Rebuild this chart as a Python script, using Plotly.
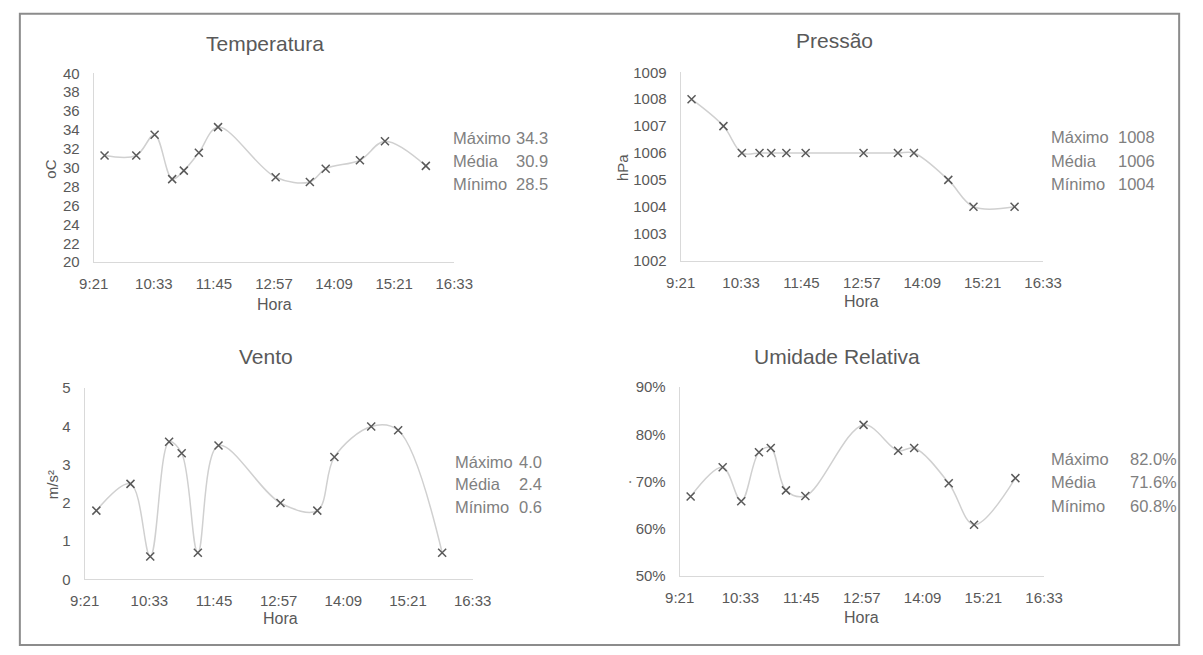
import plotly.graph_objects as go

# Observation times (HH:MM)
horas = ["9:34", "10:12", "10:34", "10:55", "11:09", "11:27", "11:50",
         "12:59", "13:40", "13:59", "14:40", "15:10", "15:59"]

temperatura = [31.3, 31.3, 33.5, 28.8, 29.7, 31.6, 34.3, 29.0, 28.5, 29.9, 30.8, 32.8, 30.2]
pressao = [1008, 1007, 1006, 1006, 1006, 1006, 1006, 1006, 1006, 1006, 1005, 1004, 1004]
vento = [1.8, 2.5, 0.6, 3.6, 3.3, 0.7, 3.5, 2.0, 1.8, 3.2, 4.0, 3.9, 0.7]
umidade = [66.8, 73.0, 65.8, 76.2, 77.1, 68.1, 66.9, 82.0, 76.5, 77.1, 69.6, 60.8, 70.7]

x_ticks = ["9:21", "10:33", "11:45", "12:57", "14:09", "15:21", "16:33"]
stat_labels = ["Máximo", "Média", "Mínimo"]

W, H = 1203, 655
FONT = "Liberation Sans, Arial, sans-serif"
TICK_COLOR = "#595959"
STAT_COLOR = "#808080"
LINE_COLOR = "#d0d0d0"
AXIS_COLOR = "#d9d9d9"


def to_min(s):
    h, m = s.split(":")
    return int(h) * 60 + int(m)


xs = [to_min(t) for t in horas]
tickvals = [to_min(t) for t in x_ticks]


def px(x):
    return x / W


def py(y):
    return 1 - y / H


panels = [
    # data, y range, dtick, suffix, fmt, title, ytitle, plot box (x0,x1,y0,y1 px),
    # title pos, ytitle pos, xtitle pos, stats (left, right, rows)
    dict(data=temperatura, yr=[20, 40], dt=2, suffix="", fmt="{:.1f}",
         title="Temperatura", ytitle="oC", box=(81, 452, 66, 260),
         tpos=(257, 35), ypos=(37, 164), xpos=(267, 303),
         stats=(451, 549, [132, 156, 179.5])),
    dict(data=pressao, yr=[1002, 1009], dt=1, suffix="", fmt="{:.0f}",
         title="Pressão", ytitle="hPa", box=(685, 1058, 65, 258.3),
         tpos=(843, 32), ypos=(625, 163), xpos=(871, 300),
         stats=(1066, 1173, [131.5, 156, 179.5])),
    dict(data=vento, yr=[0, 5], dt=1, suffix="", fmt="{:.1f}",
         title="Vento", ytitle="m/s²", box=(71.7, 471, 389.3, 585.7),
         tpos=(258, 357), ypos=(38, 488), xpos=(273, 626),
         stats=(453, 542, [465, 488, 511.5])),
    dict(data=umidade, yr=[50, 90], dt=10, suffix="%", fmt="{:.1f}%",
         title="Umidade Relativa", ytitle="·", box=(684, 1059, 388.3, 581.7),
         tpos=(846, 357), ypos=(631, 486), xpos=(871, 625),
         stats=(1066, 1196, [462.5, 486, 510])),
]

fig = go.Figure()
annotations = []

for i, p in enumerate(panels, start=1):
    xa = "x" if i == 1 else f"x{i}"
    ya = "y" if i == 1 else f"y{i}"
    fig.add_trace(go.Scatter(
        x=xs, y=p["data"], xaxis=xa, yaxis=ya, mode="lines+markers",
        line=dict(color=LINE_COLOR, width=1.5, shape="spline", smoothing=1),
        marker=dict(symbol="x-thin", size=8, line=dict(color="#595959", width=1.5)),
        showlegend=False, cliponaxis=False,
    ))
    x0, x1, y0, y1 = p["box"]
    axis_common = dict(showgrid=False, zeroline=False, showline=True,
                       linecolor=AXIS_COLOR, linewidth=1, ticks="",
                       tickfont=dict(family=FONT, size=15, color=TICK_COLOR))
    fig.layout[f"xaxis{'' if i == 1 else i}"] = dict(
        domain=[px(x0), px(x1)], range=[tickvals[0], tickvals[-1]],
        tickvals=tickvals, ticktext=x_ticks, anchor=ya,
        ticklabelstandoff=8, **axis_common)
    fig.layout[f"yaxis{'' if i == 1 else i}"] = dict(
        domain=[py(y1), py(y0)], range=p["yr"], dtick=p["dt"],
        tick0=p["yr"][0], ticksuffix=p["suffix"], anchor=xa,
        ticklabelstandoff=10, **axis_common)

    annotations.append(dict(text=p["title"], x=px(p["tpos"][0]), y=py(p["tpos"][1]),
                            xref="paper", yref="paper", showarrow=False,
                            xanchor="center", yanchor="middle",
                            font=dict(family=FONT, size=21, color=TICK_COLOR)))
    annotations.append(dict(text=p["ytitle"], x=px(p["ypos"][0]), y=py(p["ypos"][1]),
                            xref="paper", yref="paper", showarrow=False, textangle=-90,
                            xanchor="center", yanchor="middle",
                            font=dict(family=FONT, size=15, color=TICK_COLOR)))
    annotations.append(dict(text="Hora", x=px(p["xpos"][0]), y=py(p["xpos"][1]),
                            xref="paper", yref="paper", showarrow=False,
                            xanchor="center", yanchor="middle",
                            font=dict(family=FONT, size=16, color=TICK_COLOR)))

    vals = p["data"]
    stat_vals = [max(vals), sum(vals) / len(vals), min(vals)]
    left, right, rows = p["stats"]
    for lab, v, yy in zip(stat_labels, stat_vals, rows):
        annotations.append(dict(text=lab, x=px(left), y=py(yy), xref="paper", yref="paper",
                                showarrow=False, xanchor="left", yanchor="middle",
                                borderpad=0, borderwidth=0,
                                font=dict(family=FONT, size=16.5, color=STAT_COLOR)))
        annotations.append(dict(text=p["fmt"].format(v), x=px(right), y=py(yy),
                                xref="paper", yref="paper", showarrow=False,
                                xanchor="right", yanchor="middle",
                                borderpad=0, borderwidth=0,
                                font=dict(family=FONT, size=16.5, color=STAT_COLOR)))

fig.update_layout(
    width=W, height=H, margin=dict(l=0, r=0, t=0, b=0),
    paper_bgcolor="white", plot_bgcolor="white",
    annotations=annotations,
    shapes=[dict(type="rect", xref="paper", yref="paper",
                 x0=px(5), x1=px(1198), y0=py(653), y1=py(5),
                 line=dict(color="#8c8c8c", width=2), fillcolor="rgba(0,0,0,0)")],
)

fig.write_html("out.html")
